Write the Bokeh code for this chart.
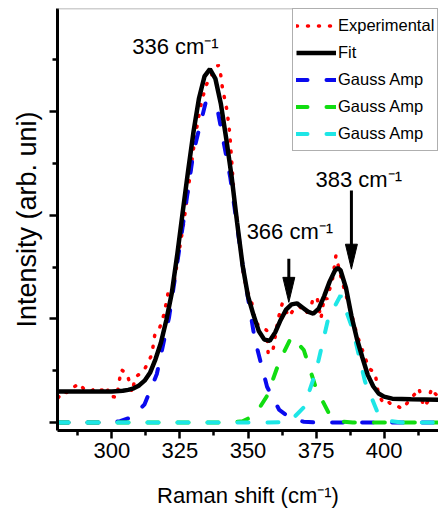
from bokeh.plotting import figure
from bokeh.models import (Range1d, FixedTicker, Label, Legend, LegendItem, Span)
from bokeh.embed import file_html
from bokeh.resources import INLINE

# ---------------- data ----------------
x_ticks = [300, 325, 350, 375, 400]
x_tick_labels = ["300", "325", "350", "375", "400"]
x_minor = [287.5, 312.5, 337.5, 362.5, 387.5, 412.5]
y_ticks = [0, 1, 2, 3]
y_minor = [0.5, 1.5, 2.5, 3.5]

exp_x = [280.3, 281.8, 283.4, 285.5, 287.9, 289.5, 291.0, 292.8, 294.4, 296.2,
         298.0, 299.4, 300.6, 301.7, 303.4, 305.6, 307.4, 308.6, 310.3, 311.9,
         313.3, 314.7, 315.7, 317.6, 319.2, 320.7, 322.1, 324.5, 326.5, 328.5,
         329.9, 331.5, 332.9, 334.5, 336.5, 338.0, 339.0, 339.6, 340.6, 342.3,
         343.3, 344.2, 345.1, 346.3, 347.5, 348.4, 350.0, 351.2, 352.4, 354.5,
         356.9, 357.4, 359.0, 361.0, 362.6, 365.0, 367.0, 369.0, 371.1, 373.0,
         374.0, 375.5, 376.8, 378.0, 379.0, 381.1, 382.3, 384.2, 386.0, 388.0,
         390.0, 392.7, 394.5, 396.7, 397.9, 399.4, 400.8, 402.4, 404.5, 406.5,
         407.3, 409.5, 411.8, 412.8, 414.6, 416.0, 417.5, 418.3, 420.0]
exp_y = [0.24, 0.30, 0.29, 0.33, 0.38, 0.33, 0.30, 0.31, 0.34, 0.31,
         0.35, 0.24, 0.25, 0.24, 0.51, 0.47, 0.29, 0.44, 0.47, 0.51,
         0.58, 0.66, 0.84, 0.92, 1.05, 1.26, 1.24, 1.62, 1.95, 2.35,
         2.63, 2.90, 3.09, 3.25, 3.35, 3.40, 3.45, 3.43, 3.23, 3.01,
         2.79, 2.45, 2.11, 1.89, 1.62, 1.41, 1.25, 1.19, 0.98, 0.92,
         0.89, 0.67, 0.67, 0.99, 1.15, 1.02, 1.10, 1.12, 1.05, 1.10,
         1.21, 1.19, 1.00, 1.21, 1.19, 1.39, 1.61, 1.40, 1.23, 1.05,
         0.85, 0.65, 0.52, 0.48, 0.28, 0.20, 0.22, 0.18, 0.17, 0.13,
         0.15, 0.22, 0.29, 0.33, 0.15, 0.20, 0.33, 0.29, 0.25]

fit_x = [280, 290, 300, 304, 306, 308, 310, 312, 314, 316, 318, 320,
         322, 324, 326, 328, 330, 332, 334, 336, 338,
         340, 342, 344, 346, 348, 350, 352, 354, 356, 358, 360, 362, 364, 366,
         368, 370, 372, 374, 376, 378, 380,
         382, 383, 384, 386, 388, 390, 392, 394, 396, 398, 400, 403, 410, 420]
fit_y = [0.30, 0.30, 0.30, 0.307, 0.315, 0.33, 0.358, 0.404, 0.48, 0.61, 0.77, 0.99,
         1.25, 1.62, 2.03, 2.43, 2.81, 3.13, 3.34, 3.41, 3.32,
         3.08, 2.74, 2.37, 1.93, 1.52, 1.22, 1.04, 0.88, 0.80, 0.79, 0.87, 0.99, 1.09, 1.14,
         1.15, 1.11, 1.07, 1.05, 1.10, 1.22, 1.36,
         1.47, 1.49, 1.47, 1.30, 1.03, 0.81, 0.63, 0.46, 0.35, 0.28, 0.25, 0.23, 0.225, 0.22]

gauss_x = [280, 285, 289.5, 294, 298.5, 303, 307.5, 312, 316.5, 321, 325.5, 330,
           334.5, 339, 343.5, 348, 352.5, 357, 361.5, 366, 370.5, 375, 379.5, 384,
           388.5, 393, 397.5, 402, 406.5, 411, 415.5, 420]
gauss_blue = [0, 0, 0, 0, 0, 0.013, 0.054, 0.176, 0.468, 1.016, 1.803, 2.614,
              3.095, 2.992, 2.363, 1.523, 0.802, 0.345, 0.121, 0.035, 0.008, 0, 0, 0,
              0, 0, 0, 0, 0, 0, 0, 0]
gauss_green = [0, 0, 0, 0, 0, 0, 0, 0, 0, 0, 0, 0,
               0, 0, 0, 0.012, 0.070, 0.257, 0.587, 0.830, 0.700, 0.330, 0.100, 0.010,
               0, 0, 0, 0, 0, 0, 0, 0]
gauss_cyan = [0, 0, 0, 0, 0, 0, 0, 0, 0, 0, 0, 0,
              0, 0, 0, 0, 0, 0, 0.002, 0.026, 0.146, 0.495, 1.006, 1.226,
              0.898, 0.395, 0.104, 0.016, 0, 0, 0, 0]

series_names = ["Experimental", "Fit", "Gauss Amp", "Gauss Amp", "Gauss Amp"]
peak_labels = ["336 cm\u207b\u00b9", "366 cm\u207b\u00b9", "383 cm\u207b\u00b9"]

# ---------------- styling ----------------
FONT = "Liberation Sans"
RED, BLUE, GREEN, CYAN = "#ff0000", "#0a0aee", "#11dd11", "#1ee6e6"

p = figure(width=438, height=518, output_backend="svg", toolbar_location=None,
           x_range=Range1d(280, 420), y_range=Range1d(-0.077, 3.996),
           min_border_left=57, min_border_right=0, min_border_top=8,
           min_border_bottom=88)
p.outline_line_color = None
p.grid.visible = False
p.background_fill_color = "white"
p.border_fill_color = "white"

r_exp = p.line(exp_x, exp_y, line_color=RED, line_width=3.5, line_dash="1 10",
               line_cap="round")
r_blue = p.line(gauss_x, gauss_blue, line_color=BLUE, line_width=4,
                line_dash="11 19", line_cap="round")
r_green = p.line(gauss_x, gauss_green, line_color=GREEN, line_width=4,
                 line_dash="11 19", line_cap="round")
r_cyan = p.line(gauss_x, gauss_cyan, line_color=CYAN, line_width=4,
                line_dash="11 19", line_cap="round")
r_fit = p.line(fit_x, fit_y, line_color="black", line_width=4.5)

# axes
xa = p.xaxis[0]
xa.ticker = FixedTicker(ticks=x_ticks, minor_ticks=x_minor)
xa.major_label_overrides = {t: s for t, s in zip(x_ticks, x_tick_labels)}
ya = p.yaxis[0]
ya.ticker = FixedTicker(ticks=y_ticks, minor_ticks=y_minor)
ya.major_label_overrides = {t: "" for t in y_ticks}
for ax in (xa, ya):
    ax.axis_line_width = 3
    ax.axis_line_color = "black"
    ax.major_tick_in = 0
    ax.major_tick_out = 8
    ax.minor_tick_in = 0
    ax.minor_tick_out = 5
    ax.major_tick_line_width = 2.5
    ax.minor_tick_line_width = 2.5
    ax.axis_label_text_font_style = "normal"
    ax.axis_label_text_color = "black"
    ax.major_label_text_color = "black"

xa.major_label_text_font = FONT
xa.major_label_text_font_size = "22px"
xa.major_label_standoff = 4
xa.axis_label = "Raman shift (cm\u207b\u00b9)"
xa.axis_label_text_font = FONT
xa.axis_label_text_font_size = "22px"
xa.axis_label_standoff = 22

ya.major_label_standoff = 0
ya.axis_label = "Intensity (arb. uni)"
ya.axis_label_text_font = FONT
ya.axis_label_text_font_size = "27px"
ya.axis_label_standoff = 8

# top frame line
p.add_layout(Span(location=3.996, dimension="width", line_color="#a0a0a0",
                  line_width=1.5))

# peak annotations
label_pos = [(307.45, 3.632), (349.5, 1.847), (374.8, 2.343)]
for (lx, ly), txt in zip(label_pos, peak_labels):
    p.add_layout(Label(x=lx, y=ly, text=txt, text_font=FONT,
                       text_font_size="22px", text_baseline="alphabetic",
                       text_align="left", text_color="black"))

# arrows: (x, top, tip)
arrows = [(365.0, 1.58, 1.16), (388.0, 2.24, 1.48)]
head_len = 0.241   # ~25 px
head_half = 2.2    # ~6 px
p.segment(x0=[a[0] for a in arrows], y0=[a[1] for a in arrows],
          x1=[a[0] for a in arrows], y1=[a[2] + head_len * 0.8 for a in arrows],
          line_color="black", line_width=3)
p.patches(xs=[[a[0] - head_half, a[0] + head_half, a[0]] for a in arrows],
          ys=[[a[2] + head_len, a[2] + head_len, a[2]] for a in arrows],
          fill_color="black", line_color="black", line_width=1)

# legend
legend = Legend(items=[
    LegendItem(label=series_names[0], renderers=[r_exp]),
    LegendItem(label=series_names[1], renderers=[r_fit]),
    LegendItem(label=series_names[2], renderers=[r_blue]),
    LegendItem(label=series_names[3], renderers=[r_green]),
    LegendItem(label=series_names[4], renderers=[r_cyan]),
], location=(235, 279))
legend.label_text_font = FONT
legend.label_text_font_size = "16.5px"
legend.label_text_color = "black"
legend.glyph_width = 40
legend.glyph_height = 27
legend.label_height = 27
legend.label_standoff = 2
legend.padding = 3
legend.spacing = 0
legend.margin = 0
legend.border_line_color = "#606060"
legend.border_line_width = 1.5
legend.background_fill_alpha = 1
p.add_layout(legend)

open("out.html", "w").write(file_html(p, INLINE))
